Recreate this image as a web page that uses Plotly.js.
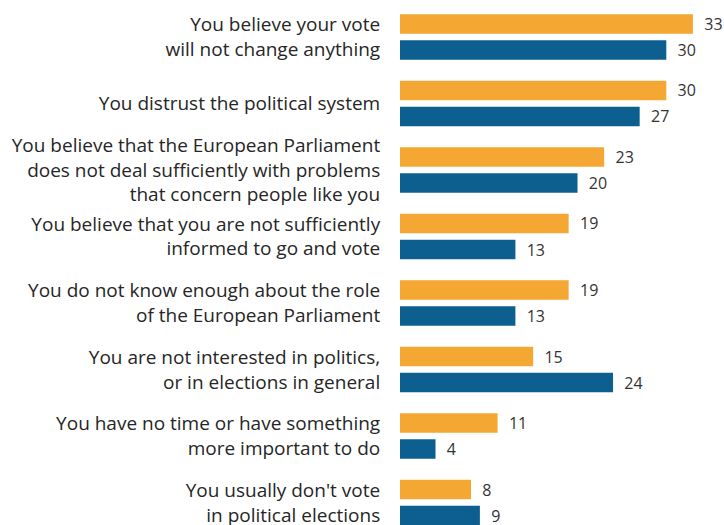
<!DOCTYPE html>
<html>
<head>
<meta charset="utf-8">
<script src="https://cdn.plot.ly/plotly-3.0.1.min.js"></script>
<style>html,body{margin:0;padding:0;background:#fff;}#chart{width:724px;height:525px;}</style>
</head>
<body>
<div id="chart"></div>
<script>
const categories = [
  "You believe your vote<br>will not change anything",
  "You distrust the political system",
  "You believe that the European Parliament<br>does not deal sufficiently with problems<br>that concern people like you",
  "You believe that you are not sufficiently<br>informed to go and vote",
  "You do not know enough about the role<br>of the European Parliament",
  "You are not interested in politics,<br>or in elections in general",
  "You have no time or have something<br>more important to do",
  "You usually don't vote<br>in political elections"
];
const seriesOrange = [33, 30, 23, 19, 19, 15, 11, 8];
const seriesBlue = [30, 27, 20, 13, 13, 24, 4, 9];

const fontFam = "Open Sans, sans-serif";
const traces = [
  {type: "bar", orientation: "h", name: "Orange", y: categories, x: seriesOrange,
   marker: {color: "#F5A733"}, texttemplate: "\u00a0\u00a0%{x}", textposition: "outside",
   constraintext: "none",
   cliponaxis: false, textfont: {family: fontFam, size: 16, color: "#333333"}, hoverinfo: "x"},
  {type: "bar", orientation: "h", name: "Blue", y: categories, x: seriesBlue,
   marker: {color: "#0D5F8F"}, texttemplate: "\u00a0\u00a0%{x}", textposition: "outside",
   constraintext: "none",
   cliponaxis: false, textfont: {family: fontFam, size: 16, color: "#333333"}, hoverinfo: "x"}
];
const layout = {
  width: 724, height: 525,
  margin: {l: 400, r: 0, t: 0, b: 0},
  paper_bgcolor: "#fff", plot_bgcolor: "#fff",
  barmode: "group", bargap: 0.218, bargroupgap: 0.25,
  showlegend: false,
  font: {family: fontFam, color: "#262626"},
  xaxis: {range: [0, 36.5], visible: false, fixedrange: true},
  yaxis: {type: "category", range: [7.338, -0.556], showgrid: false, zeroline: false, showline: false,
          ticks: "outside", ticklen: 15, tickcolor: "rgba(0,0,0,0)",
          tickfont: {family: fontFam, size: 19, color: "#262626"}, fixedrange: true},
  uniformtext: {mode: false}
};
Plotly.newPlot("chart", traces, layout, {displayModeBar: false, staticPlot: true});
</script>
</body>
</html>
